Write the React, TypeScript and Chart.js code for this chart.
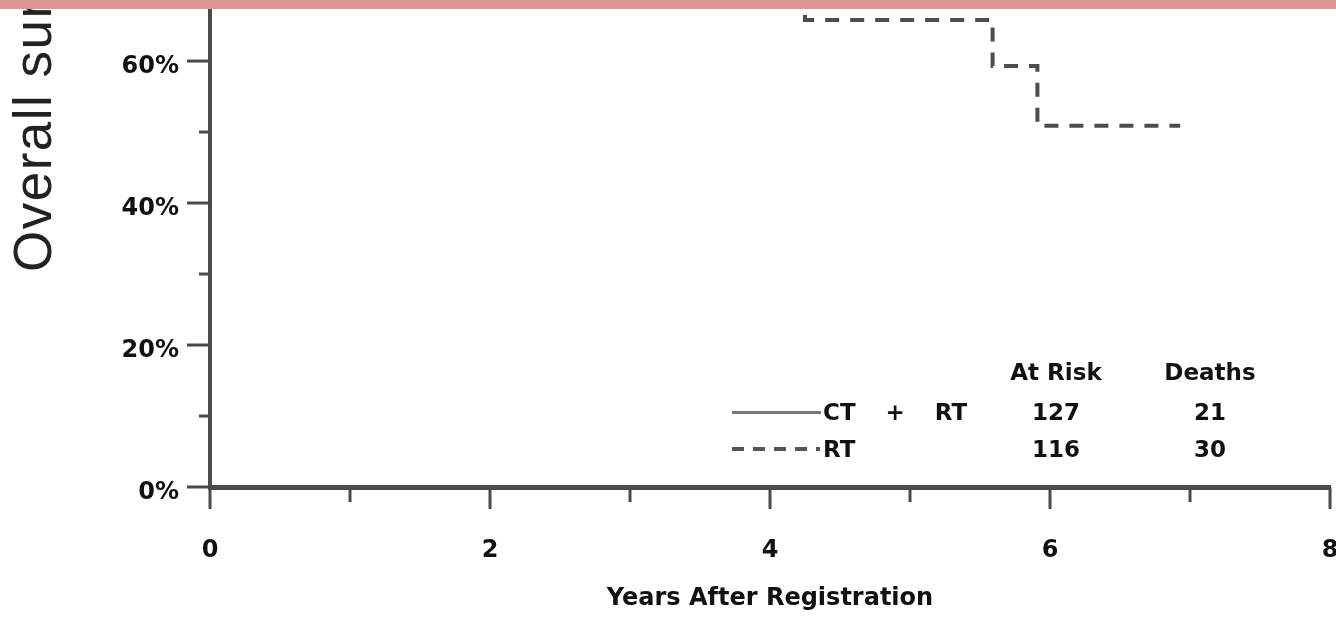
import React, { useEffect, useRef } from 'react';
import { Chart, registerables } from 'chart.js';

Chart.register(...registerables);

// ---- Data ----
// RT arm (dashed). The first point sits above the cropped top edge of the picture.
const rtYears = [4.25, 4.25, 5.59, 5.91, 6.93];
const rtSurvival = [70, 65.8, 59.3, 50.9, 50.9];

const xTickValues = [0, 1, 2, 3, 4, 5, 6, 7, 8];
const xTickLabels = ['0', '', '2', '', '4', '', '6', '', '8'];
const yTickValues = [0, 10, 20, 30, 40, 50, 60];
const yTickLabels = ['0%', '', '20%', '', '40%', '', '60%'];

const legendHeaders = ['At Risk', 'Deaths'];
const legendLabels = ['CT + RT', 'RT'];
const atRisk = [127, 116];
const deaths = [21, 30];

const X_MIN = 0;
const X_MAX = 8;
const Y_MIN = 0;
const Y_MAX = 68.6; // picture is cropped at the top

const W = 1336;
const H = 618;
const AXIS = '#4a4a4a';
const TEXT = '#111';
const BOLD = 'DejaVu Sans';

const tickPlugin = {
  id: 'kmTicks',
  afterDraw(chart: any) {
    const { ctx, chartArea, scales } = chart;
    const xs = scales.x;
    const ys = scales.y;
    ctx.save();
    ctx.strokeStyle = AXIS;
    ctx.lineWidth = 3;
    xTickValues.forEach((v, i) => {
      const px = xs.getPixelForValue(v);
      const len = xTickLabels[i] ? 22 : 15;
      ctx.beginPath();
      ctx.moveTo(px, chartArea.bottom);
      ctx.lineTo(px, chartArea.bottom + len);
      ctx.stroke();
    });
    yTickValues.forEach((v, i) => {
      const py = ys.getPixelForValue(v);
      const len = yTickLabels[i] ? 23 : 11;
      ctx.beginPath();
      ctx.moveTo(chartArea.left - len, py);
      ctx.lineTo(chartArea.left, py);
      ctx.stroke();
    });
    ctx.restore();
  },
};

export default function App() {
  const ref = useRef<HTMLCanvasElement>(null);

  useEffect(() => {
    const canvas = ref.current;
    if (!canvas) return;
    const chart = new Chart(canvas, {
      type: 'line',
      data: {
        datasets: [
          {
            label: 'RT',
            data: rtYears.map((x, i) => ({ x, y: rtSurvival[i] })),
            borderColor: '#4d4d4d',
            borderWidth: 4,
            borderDash: [14, 11],
            stepped: 'before',
            pointRadius: 0,
            fill: false,
          },
        ],
      },
      options: {
        responsive: false,
        animation: false,
        events: [],
        layout: { padding: { left: 0, right: 6, top: 0, bottom: 0 } },
        plugins: { legend: { display: false }, tooltip: { enabled: false } },
        scales: {
          x: {
            type: 'linear',
            min: X_MIN,
            max: X_MAX,
            afterBuildTicks: (s: any) => {
              s.ticks = xTickValues.map((v) => ({ value: v }));
            },
            afterFit: (s: any) => {
              s.height = 131;
              s.paddingLeft = 0;
              s.paddingRight = 0;
            },
            grid: { display: false, drawTicks: false },
            border: { display: true, color: AXIS, width: 5 },
            ticks: {
              autoSkip: false,
              maxRotation: 0,
              padding: 49,
              color: TEXT,
              font: { family: BOLD, weight: 'bold', size: 24 },
              callback: (_v: any, i: number) => xTickLabels[i],
            },
            title: {
              display: true,
              text: 'Years After Registration',
              color: TEXT,
              font: { family: BOLD, weight: 'bold', size: 24 },
              padding: { top: 0, bottom: 5 },
            },
          },
          y: {
            type: 'linear',
            min: Y_MIN,
            max: Y_MAX,
            afterBuildTicks: (s: any) => {
              s.ticks = yTickValues.map((v) => ({ value: v }));
            },
            afterFit: (s: any) => {
              s.width = 210;
              s.paddingTop = 0;
              s.paddingBottom = 0;
            },
            grid: { display: false, drawTicks: false },
            border: { display: true, color: AXIS, width: 4 },
            ticks: {
              autoSkip: false,
              padding: 31,
              labelOffset: 6,
              color: TEXT,
              font: { family: BOLD, weight: 'bold', size: 24 },
              callback: (_v: any, i: number) => yTickLabels[i],
            },
          },
        },
      },
      plugins: [tickPlugin],
    } as any);
    return () => chart.destroy();
  }, []);

  const txt = (
    x: number,
    y: number,
    s: string,
    key: string,
    align: 'center' | 'left' = 'center',
    wordSpacing = 0,
  ) => (
    <div
      key={key}
      style={{
        position: 'absolute',
        left: x,
        top: y,
        transform: align === 'center' ? 'translate(-50%, -50%)' : 'translate(0, -50%)',
        font: `bold 23px '${BOLD}'`,
        lineHeight: '1',
        whiteSpace: 'pre',
        wordSpacing: `${wordSpacing}px`,
        color: TEXT,
      }}
    >
      {s}
    </div>
  );

  const rowY = [412, 449];
  const colX = [1056, 1210];

  return (
    <div
      style={{
        position: 'fixed',
        left: 0,
        top: 0,
        width: W,
        height: H,
        background: '#fff',
        overflow: 'hidden',
      }}
    >
      <canvas ref={ref} width={W} height={H} style={{ position: 'absolute', left: 0, top: 0, display: 'block' }} />
      <div
        style={{
          position: 'absolute',
          left: 6,
          top: 272,
          transformOrigin: '0 0',
          transform: 'rotate(-90deg)',
          font: "53px 'Liberation Sans'",
          letterSpacing: '1.5px',
          lineHeight: '53px',
          whiteSpace: 'nowrap',
          color: '#222',
        }}
      >
        Overall survival
      </div>
      {legendHeaders.map((h, i) => txt(colX[i], 372, h, 'h' + i))}
      {legendLabels.map((l, i) => txt(823, rowY[i], l, 'l' + i, 'left', 22))}
      {atRisk.map((v, i) => txt(colX[0], rowY[i], String(v), 'a' + i))}
      {deaths.map((v, i) => txt(colX[1], rowY[i], String(v), 'd' + i))}
      <div style={{ position: 'absolute', left: 732, top: rowY[0] - 1.5, width: 89, height: 3, background: '#777' }} />
      <svg style={{ position: 'absolute', left: 732, top: rowY[1] - 4, overflow: 'visible' }} width={88} height={8}>
        <line x1={0} y1={4} x2={88} y2={4} stroke="#555" strokeWidth={4} strokeDasharray="12 9" />
      </svg>
      <div style={{ position: 'absolute', left: 0, top: 0, width: W, height: 9, background: '#dc9494' }} />
    </div>
  );
}
